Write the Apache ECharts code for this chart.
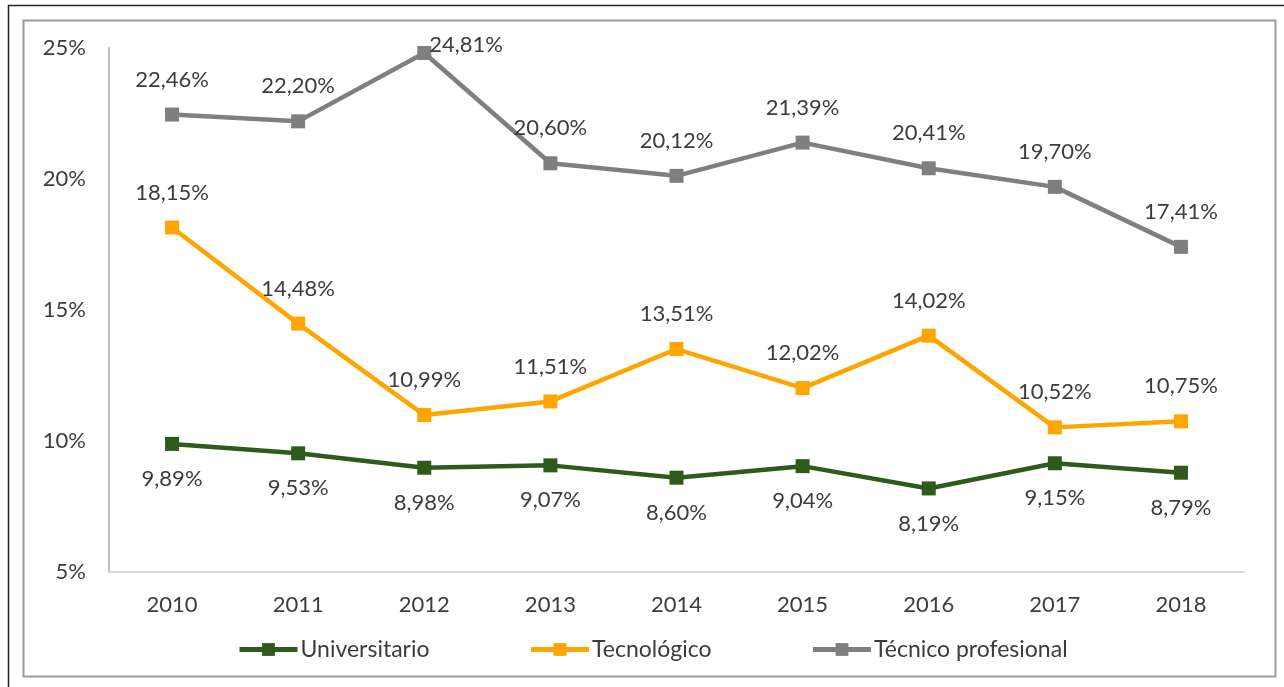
<!DOCTYPE html>
<html>
<head>
<meta charset="utf-8">
<script src="https://cdn.jsdelivr.net/npm/echarts@6/dist/echarts.min.js"></script>
<style>
  html, body { margin: 0; padding: 0; background: #fff; }
  #chart { width: 1284px; height: 687px; }
</style>
</head>
<body>
<div id="chart"></div>
<script>
var anios = ['2010', '2011', '2012', '2013', '2014', '2015', '2016', '2017', '2018'];
var universitario = [9.89, 9.53, 8.98, 9.07, 8.60, 9.04, 8.19, 9.15, 8.79];
var tecnologico = [18.15, 14.48, 10.99, 11.51, 13.51, 12.02, 14.02, 10.52, 10.75];
var tecnicoProfesional = [22.46, 22.20, 24.81, 20.60, 20.12, 21.39, 20.41, 19.70, 17.41];
var ticksY = [5, 10, 15, 20, 25];

var fuente = 'Lato';
var gris = '#3c3c3c';

function pct(v) {
  return v.toFixed(2).replace('.', ',') + '%';
}

function serie(nombre, datos, color, posicion) {
  return {
    name: nombre,
    type: 'line',
    data: datos,
    symbol: 'rect',
    symbolSize: 14,
    lineStyle: { width: 4.5, color: color },
    itemStyle: { color: color },
    label: {
      show: true,
      position: posicion,
      distance: 17,
      color: gris,
      fontFamily: fuente,
      fontSize: 22,
      formatter: function (p) { return pct(p.value); }
    }
  };
}

var chart = echarts.init(document.getElementById('chart'));

var tecnico = serie('Técnico profesional', tecnicoProfesional, '#7f7f7f', 'top');
// el pico de 2012 lleva la etiqueta a la derecha
tecnico.data = tecnicoProfesional.map(function (v, i) {
  if (i === 2) {
    return { value: v, label: { position: 'right', distance: 0, offset: [-2, -8] } };
  }
  return v;
});

chart.setOption({
  animation: false,
  graphic: [
    { type: 'rect', shape: { x: 8.5, y: 5.5, width: 1290, height: 690 }, style: { fill: 'none', stroke: '#222', lineWidth: 1.5 } },
    { type: 'rect', shape: { x: 23.5, y: 20.5, width: 1252, height: 656 }, style: { fill: 'none', stroke: '#9a9a9a', lineWidth: 2 } }
  ],
  grid: { left: 109, right: 40, top: 48, bottom: 115 },
  legend: {
    left: 237,
    top: 638,
    padding: 0,
    itemWidth: 58,
    itemHeight: 16,
    itemGap: 99,
    lineStyle: { width: 5 },
    textStyle: { color: gris, fontFamily: fuente, fontSize: 23, padding: [0, 0, 0, -2] },
    data: ['Universitario', 'Tecnológico', 'Técnico profesional']
  },
  xAxis: {
    type: 'category',
    data: anios,
    boundaryGap: true,
    axisLine: { lineStyle: { color: '#d9d9d9', width: 2 } },
    axisTick: { show: false },
    axisLabel: { color: gris, fontFamily: fuente, fontSize: 22, margin: 22 }
  },
  yAxis: {
    type: 'value',
    min: ticksY[0],
    max: ticksY[ticksY.length - 1],
    interval: 5,
    axisLine: { show: true, lineStyle: { color: '#bfbfbf', width: 2 } },
    axisTick: { show: false },
    splitLine: { show: false },
    axisLabel: { color: gris, fontFamily: fuente, fontSize: 22, margin: 23, formatter: '{value}%' }
  },
  series: [
    serie('Universitario', universitario, '#2e5b1c', 'bottom'),
    serie('Tecnológico', tecnologico, '#ffa500', 'top'),
    tecnico
  ]
});
</script>
</body>
</html>
